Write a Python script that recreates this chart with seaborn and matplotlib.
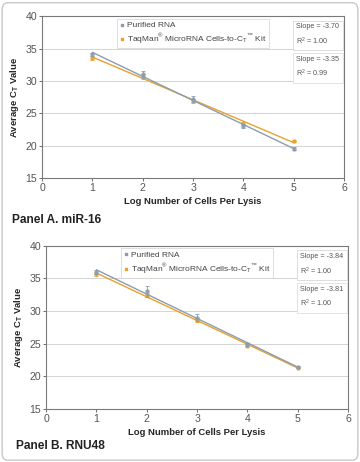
import matplotlib
matplotlib.use('Agg')
import matplotlib.pyplot as plt
import seaborn as sns
import numpy as np
from matplotlib.patches import FancyBboxPatch

# ── DATA ─────────────────────────────────────────────
log_cells = [1, 2, 3, 4, 5]

a_purified = [34.1, 31.0, 27.2, 23.0, 19.5]
a_purified_err = [0.2, 0.6, 0.4, 0.3, 0.2]
a_kit = [33.6, 30.7, 26.9, 23.4, 20.7]
a_kit_err = [0.3, 0.4, 0.3, 0.2, 0.2]
a_stats = [("-3.70", "1.00"), ("-3.35", "0.99")]

b_purified = [36.0, 33.0, 29.0, 24.9, 21.4]
b_purified_err = [0.3, 0.8, 0.6, 0.2, 0.1]
b_kit = [35.6, 32.5, 28.6, 24.7, 21.3]
b_kit_err = [0.3, 0.3, 0.3, 0.2, 0.1]
b_stats = [("-3.84", "1.00"), ("-3.81", "1.00")]

labels = ["Purified RNA",
          "TaqMan$^\\mathrm{\u00ae}$ MicroRNA Cells-to-C$_\\mathrm{T}$$^\\mathrm{\u2122}$ Kit"]
c_pur = "#8a9db0"
c_kit = "#e9a12c"

sns.set_theme(style="white")
plt.rcParams['font.family'] = ['Liberation Sans', 'DejaVu Sans']
plt.rcParams['mathtext.fontset'] = 'custom'
plt.rcParams['mathtext.rm'] = 'Liberation Sans'
plt.rcParams['mathtext.bf'] = 'Liberation Sans:bold'

fig = plt.figure(figsize=(3.6, 4.62), dpi=100)
fig.patch.set_facecolor('white')
fig.patches.append(FancyBboxPatch((0.006, 0.004), 0.988, 0.99, boxstyle="round,pad=0,rounding_size=0.015",
                                  transform=fig.transFigure, facecolor='white',
                                  edgecolor='#c8c8c8', linewidth=1.0, zorder=-1))


def panel(rect, pur, pur_err, kit, kit_err, stats, title, title_xy):
    ax = fig.add_axes(rect)
    for y, err, col, lab, z in [(kit, kit_err, c_kit, labels[1], 3), (pur, pur_err, c_pur, labels[0], 4)]:
        sns.regplot(x=log_cells, y=y, ax=ax, ci=None, color=col,
                    scatter_kws={'s': 5, 'marker': 's', 'zorder': z},
                    line_kws={'linewidth': 1.0, 'zorder': z})
        ax.errorbar(log_cells, y, yerr=err, fmt='none', ecolor=col,
                    elinewidth=0.6, capsize=1.2, capthick=0.6, zorder=z)
    # legend entries
    h1 = ax.scatter([], [], s=3, marker='s', color=c_pur)
    h2 = ax.scatter([], [], s=3, marker='s', color=c_kit)
    leg = ax.legend([h1, h2], labels, loc='upper left', bbox_to_anchor=(0.248, 0.985),
                    fontsize=6.0, frameon=True, fancybox=False, edgecolor='#d0d0d0',
                    handlelength=0.5, handletextpad=0.4, borderpad=0.3, labelspacing=0.3,
                    borderaxespad=0, labelcolor='#444444')
    leg.get_frame().set_linewidth(0.6)
    ax.set_xlim(0, 6)
    ax.set_ylim(15, 40)
    ax.set_xticks(range(0, 7))
    ax.set_yticks(range(15, 41, 5))
    ax.yaxis.grid(True, color='#d4d4d4', linewidth=0.7)
    ax.set_axisbelow(True)
    for s in ax.spines.values():
        s.set_color('#7a7a7a')
        s.set_linewidth(0.8)
    ax.tick_params(labelsize=7.6, colors='#555555', length=2, width=0.6, pad=1.5,
                   bottom=True, left=True)
    ax.set_xlabel("Log Number of Cells Per Lysis", fontsize=6.8, fontweight='bold', labelpad=3)
    ax.set_ylabel("Average C$_\\mathbf{T}$ Value", fontsize=6.8, fontweight='bold', labelpad=3)
    # slope boxes
    for (sl, r2), yy, ec in [(stats[0], 0.955, '#d8d8d8'), (stats[1], 0.755, '#f1dcc0')]:
        ax.text(0.842, yy, f"Slope = {sl}\nR$^2$ = {r2}", transform=ax.transAxes,
                fontsize=5.2, color='#555555', va='top', ha='left', linespacing=1.6,
                bbox=dict(boxstyle='square,pad=0.45', facecolor='white', edgecolor=ec, linewidth=0.6))
    fig.text(title_xy[0], title_xy[1], title, fontsize=8.6, fontweight='bold', color='#222222',
             ha='left', va='center')
    return ax


panel([0.117, 0.615, 0.839, 0.35], a_purified, a_purified_err, a_kit, a_kit_err, a_stats,
      "Panel A. miR-16", (0.033, 0.524))
panel([0.128, 0.115, 0.839, 0.353], b_purified, b_purified_err, b_kit, b_kit_err, b_stats,
      "Panel B. RNU48", (0.044, 0.034))

fig.savefig('out.png', dpi=100)
